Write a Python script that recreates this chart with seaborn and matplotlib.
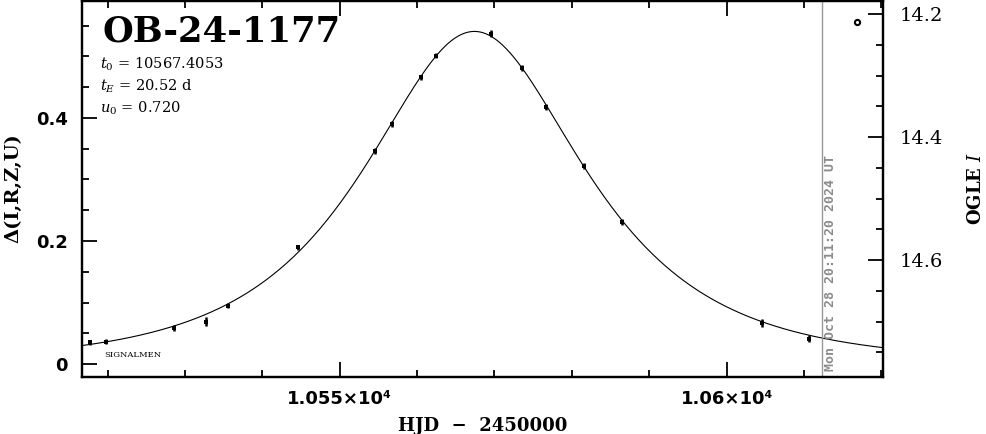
import numpy as np
import pandas as pd
import matplotlib
matplotlib.use("Agg")
import matplotlib.pyplot as plt
from matplotlib.ticker import MultipleLocator, FixedLocator, FuncFormatter
import seaborn as sns

# ---- data ----
hjd = [10517.7, 10519.8, 10528.6, 10532.7, 10535.6, 10544.6, 10554.5, 10556.7,
       10560.5, 10562.5, 10569.5, 10573.5, 10576.6, 10581.6, 10586.5, 10604.6, 10610.6]
delta = [0.035, 0.036, 0.058, 0.069, 0.095, 0.190, 0.346, 0.390,
         0.466, 0.501, 0.537, 0.481, 0.418, 0.322, 0.231, 0.067, 0.041]
err = [0.004, 0.004, 0.005, 0.007, 0.004, 0.004, 0.005, 0.005,
       0.004, 0.004, 0.006, 0.005, 0.005, 0.005, 0.005, 0.006, 0.006]
extra_hjd = [10616.9]
extra_delta = [0.556]

# model parameters shown on the chart
t0 = 10567.4053
tE = 20.52
u0 = 0.720
I_base = 14.769
now_hjd = 10612.34
title = "OB-24-1177"
now_label = "Mon Oct 28 20:11:20 2024 UT"

xlim = (10516.7, 10620.2)
ylim = (-0.0211, 0.5902)

# ---- model curve (Paczynski, from the printed parameters) ----
tt = np.linspace(xlim[0], xlim[1], 600)
uu = np.sqrt(u0**2 + ((tt - t0) / tE) ** 2)
AA = (uu**2 + 2) / (uu * np.sqrt(uu**2 + 4))
model = pd.DataFrame({"t": tt, "d": 2.5 * np.log10(AA)})
pts = pd.DataFrame({"t": hjd, "d": delta, "e": err})

sns.set_theme(style="white")
plt.rcParams["font.family"] = ["DejaVu Serif"]
plt.rcParams["mathtext.fontset"] = "dejavuserif"
for k in ["text.color", "axes.labelcolor", "xtick.color", "ytick.color", "axes.edgecolor"]:
    plt.rcParams[k] = "black"

fig = plt.figure(figsize=(9.86, 4.34), dpi=100)
ax = fig.add_axes([82/986, 1 - 377/434, (883-82)/986, 376/434])

sns.lineplot(data=model, x="t", y="d", ax=ax, color="black", lw=0.8)
ax.errorbar(pts["t"], pts["d"], yerr=pts["e"], fmt="none", ecolor="black", elinewidth=1.8, capsize=0)
sns.scatterplot(data=pts, x="t", y="d", ax=ax, color="black", marker="s", s=7, linewidth=0)
sns.scatterplot(x=extra_hjd, y=extra_delta, ax=ax, marker="o", s=14,
                facecolor="white", edgecolor="black", linewidth=1.5)

ax.axvline(now_hjd, color="#999999", lw=1.0)
ax.text(now_hjd + 0.3, -0.011, now_label, rotation=90, color="#8c8c8c", fontsize=9.5,
        fontweight="bold", family="DejaVu Sans Mono", ha="left", va="bottom")

ax.set_xlim(*xlim)
ax.set_ylim(*ylim)

for s in ax.spines.values():
    s.set_linewidth(1.6)
    s.set_color("black")

ax.xaxis.set_major_locator(MultipleLocator(50))
ax.xaxis.set_minor_locator(MultipleLocator(10))
ax.yaxis.set_major_locator(MultipleLocator(0.2))
ax.yaxis.set_minor_locator(MultipleLocator(0.05))

def xfmt(v, p):
    m = v / 1e4
    return ("%g" % m) + "×10⁴"
ax.xaxis.set_major_formatter(FuncFormatter(xfmt))
ax.yaxis.set_major_formatter(FuncFormatter(lambda v, p: "0" if abs(v) < 1e-9 else "%.1f" % v))

ax.tick_params(which="both", direction="in", top=True, bottom=True, left=True, right=False,
               color="black", width=1.3)
ax.tick_params(which="major", length=11, labelsize=13)
ax.tick_params(axis="x", which="major", pad=9)
ax.tick_params(axis="y", which="major", pad=10)
ax.tick_params(which="minor", length=5)
for lab in ax.get_xticklabels() + ax.get_yticklabels():
    lab.set_family("DejaVu Sans")
    lab.set_fontweight("bold")

ax.set_xlabel("HJD  −  2450000", fontsize=13, fontweight="bold", labelpad=7)
ax.set_ylabel("")
fig.text(13.5/986, 1 - 188/434, "Δ(I,R,Z,U)", rotation=90, fontsize=14, fontweight="bold",
         ha="center", va="center")

ax2 = ax.twinx()
ax2.set_ylim(I_base - ylim[0], I_base - ylim[1])
ax2.yaxis.set_major_locator(FixedLocator([14.2, 14.4, 14.6]))
ax2.yaxis.set_minor_locator(MultipleLocator(0.05))
ax2.yaxis.set_major_formatter(FuncFormatter(lambda v, p: "%.1f" % v))
ax2.tick_params(which="both", direction="in", right=True, left=False, color="black", width=1.3)
ax2.tick_params(which="major", length=11, labelsize=14, pad=12)
ax2.tick_params(which="minor", length=5)
for lab in ax2.get_yticklabels():
    lab.set_family("DejaVu Serif")
for s in ax2.spines.values():
    s.set_linewidth(1.6)
ax2.set_ylabel("")
fig.text(976/986, 1 - 188/434, "OGLE $\\mathit{I}$", rotation=90, fontsize=13, fontweight="bold",
         ha="center", va="center")

ax.text((103-82)/801, 1 - 31/376, title, transform=ax.transAxes, fontsize=25.5, fontweight="bold",
        va="center", ha="left")
ax.text((100-82)/801, 1 - 63/376, "$t_0$ = 10567.4053", transform=ax.transAxes, fontsize=10.5, va="center")
ax.text((100-82)/801, 1 - 85/376, "$t_E$ = 20.52 d", transform=ax.transAxes, fontsize=10.5, va="center")
ax.text((100-82)/801, 1 - 107/376, "$u_0$ = 0.720", transform=ax.transAxes, fontsize=10.5, va="center")
ax.text(22/801, 1 - 354/376, "SIGNALMEN", transform=ax.transAxes, fontsize=6, va="center")

fig.savefig("out.png", dpi=100)
